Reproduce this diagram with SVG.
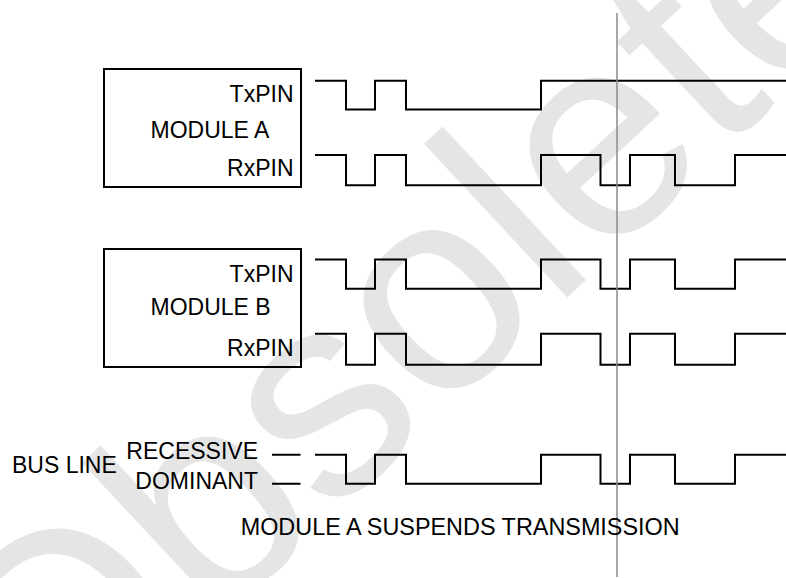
<svg xmlns="http://www.w3.org/2000/svg" width="786" height="578" viewBox="0 0 786 578">
<style>
.t{font-family:"Liberation Sans",Arial,Helvetica,sans-serif;font-size:23px;fill:#000}
.box{fill:none;stroke:#000;stroke-width:2}
.sig{fill:none;stroke:#000;stroke-width:2;stroke-linejoin:miter}
.wm{font-family:"Liberation Sans",Arial,sans-serif;font-size:290px;fill:#e5e5e5}
.cursor{stroke:#8a8a8a;stroke-width:1.5}
</style>
<rect width="786" height="578" fill="#fff"/>
<g id="watermark">
<text class="wm" transform="translate(46,783.5) rotate(-43)">Obsolete</text>
</g>
<g id="moduleA">
<rect class="box" x="104" y="69" width="197" height="118"/>
<text class="t" x="293.5" y="102.3" text-anchor="end">TxPIN</text>
<text class="t" x="150.5" y="137.5">MODULE A</text>
<text class="t" x="293.5" y="175.7" text-anchor="end">RxPIN</text>
</g>
<g id="moduleB">
<rect class="box" x="104" y="249" width="197" height="118"/>
<text class="t" x="293.5" y="282.3" text-anchor="end">TxPIN</text>
<text class="t" x="150.5" y="315">MODULE B</text>
<text class="t" x="293.5" y="355.7" text-anchor="end">RxPIN</text>
</g>
<g id="busLine">
<text class="t" x="12" y="473">BUS LINE</text>
<text class="t" x="258" y="459" text-anchor="end">RECESSIVE</text>
<text class="t" x="258" y="488.7" text-anchor="end">DOMINANT</text>
<path class="sig" d="M272,454.7 H300.5 M272,483.7 H300.5"/>
</g>
<g id="connectors">
<path class="sig" d="M315,80.7 H346 V109.5 H375 V80.7 H406 V109.5 H541 V80.7 H786"/>
<path class="sig" d="M315,155 H346 V185.3 H375 V155 H406 V185.3 H541 V155 H600.5 V185.3 H630 V155 H675 V185.3 H735 V155 H786"/>
<path class="sig" d="M315,259.5 H346 V288.7 H375 V259.5 H406 V288.7 H541 V259.5 H600.5 V288.7 H630 V259.5 H675 V288.7 H735 V259.5 H786"/>
<path class="sig" d="M315,333.7 H346 V364.7 H375 V333.7 H406 V364.7 H541 V333.7 H600.5 V364.7 H630 V333.7 H675 V364.7 H735 V333.7 H786"/>
<path class="sig" d="M315,454.7 H346 V483.7 H375 V454.7 H406 V483.7 H541 V454.7 H600.5 V483.7 H630 V454.7 H675 V483.7 H735 V454.7 H786"/>
</g>
<g id="suspend">
<line class="cursor" x1="617" y1="13" x2="617" y2="577"/>
<text class="t" x="240.7" y="534.7" textLength="439" lengthAdjust="spacingAndGlyphs">MODULE A SUSPENDS TRANSMISSION</text>
</g>
</svg>
